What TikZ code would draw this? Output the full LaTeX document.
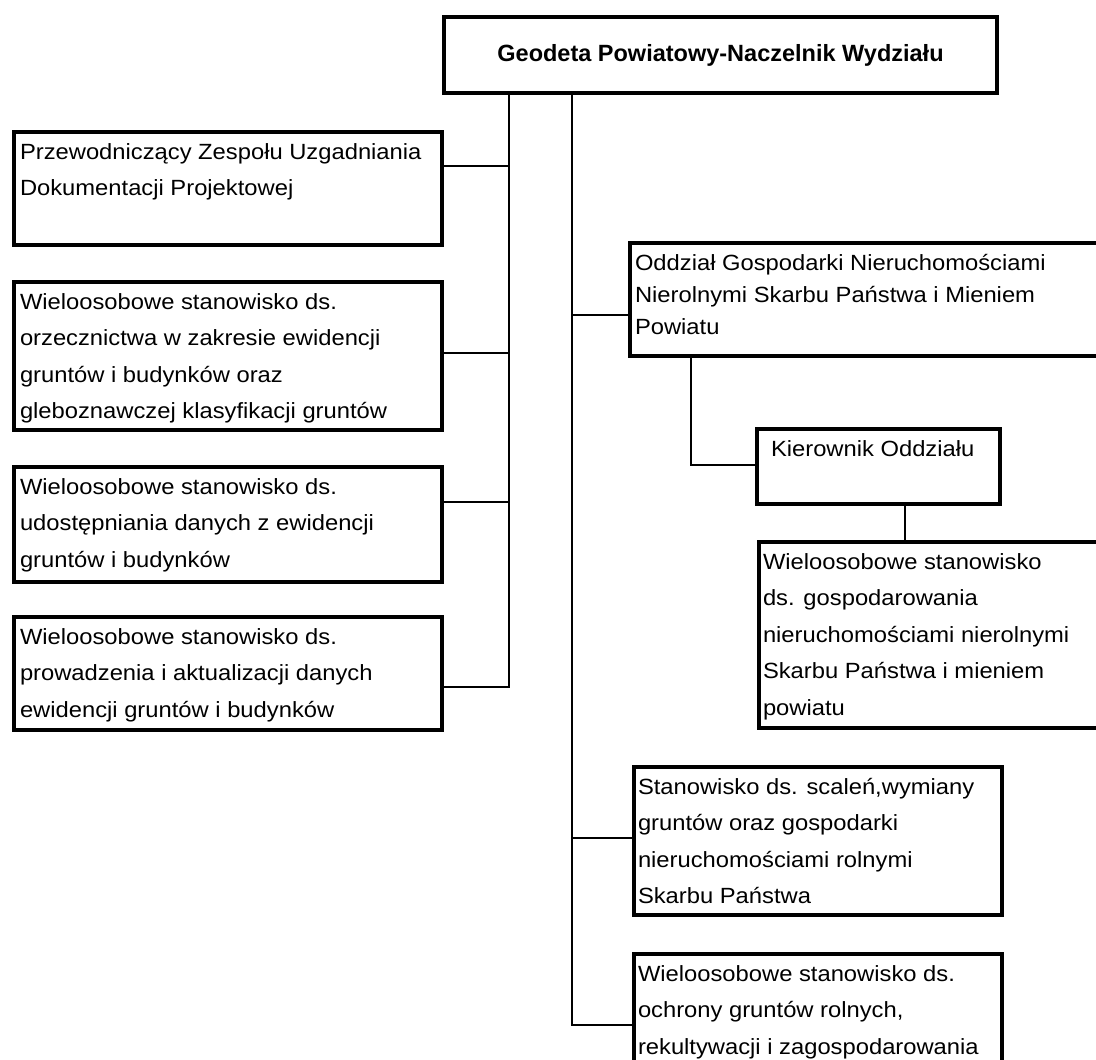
\documentclass[tikz,border=0pt]{standalone}
\usepackage{fontspec}
\setmainfont{Liberation Sans}[FakeStretch=1.08]
\newfontfamily\titlefont{Liberation Sans}
\newcommand\bxt[5]{\parbox[c][#2pt][t]{#1pt}{\fontsize{22}{#3}\selectfont\raggedright\leftskip=#4pt\relax\rule{0pt}{27pt}#5}}
\begin{document}
\begin{tikzpicture}[x=1pt,y=-1pt,
  box/.style={draw, line width=4pt, inner sep=0pt, anchor=north west, rectangle},
  conn/.style={line width=2pt}]
\useasboundingbox (0,0) rectangle (1096,1060);
\clip (0,0) rectangle (1096,1060);

% top
\node[box, minimum width=553pt, minimum height=76pt] (top) at (442,15)
  {\titlefont\bfseries\fontsize{23.5}{28}\selectfont Geodeta Powiatowy-Naczelnik Wydziału};

% left column
\node[box] (b1) at (12,130) {\bxt{428}{113}{36.5}{6}{Przewodniczący Zespołu Uzgadniania\\Dokumentacji Projektowej}};
\node[box] (b2) at (12,280) {\bxt{428}{148}{36.5}{6}{Wieloosobowe stanowisko ds.\\orzecznictwa w zakresie ewidencji\\gruntów i budynków oraz\\gleboznawczej klasyfikacji gruntów}};
\node[box] (b3) at (12,465) {\bxt{428}{115}{36.5}{6}{Wieloosobowe stanowisko ds.\\udostępniania danych z ewidencji\\gruntów i budynków}};
\node[box] (b4) at (12,615) {\bxt{428}{113}{36.5}{6}{Wieloosobowe stanowisko ds.\\prowadzenia i aktualizacji danych\\ewidencji gruntów i budynków}};

% right column
\node[box] (odd) at (628,241) {\bxt{480}{113}{32}{5}{Oddział Gospodarki Nieruchomościami\\Nierolnymi Skarbu Państwa i Mieniem\\Powiatu}};
\node[box] (kier) at (755,427) {\bxt{243}{75}{36.5}{14}{Kierownik Oddziału}};
\node[box] (rw) at (757,540) {\bxt{350}{186}{36.5}{4}{Wieloosobowe stanowisko\\ds. gospodarowania\\nieruchomościami nierolnymi\\Skarbu Państwa i mieniem\\powiatu}};
\node[box] (st) at (632,765) {\bxt{368}{148}{36.5}{4}{Stanowisko ds. scaleń,wymiany\\gruntów oraz gospodarki\\nieruchomościami rolnymi\\Skarbu Państwa}};
\node[box] (last) at (632,952) {\bxt{368}{150}{36.5}{4}{Wieloosobowe stanowisko ds.\\ochrony gruntów rolnych,\\rekultywacji i zagospodarowania}};

% junction coordinates
\coordinate (Lend) at (509,687);
\coordinate (Rend) at (572,1025);
\coordinate (j1) at (509,166);
\coordinate (j2) at (509,353);
\coordinate (j3) at (509,502);
\coordinate (k1) at (572,315);
\coordinate (k2) at (572,838);
\coordinate (m1) at (691,465);
\coordinate (m2) at (905,540);

% connectors
\draw[conn] (top.south -| Lend) -- (Lend) -- (b4.east |- Lend);
\draw[conn] (top.south -| Rend) -- (Rend) -- (last.west |- Rend);
\draw[conn] (b1.east |- j1) -- (j1);
\draw[conn] (b2.east |- j2) -- (j2);
\draw[conn] (b3.east |- j3) -- (j3);
\draw[conn] (k1) -- (odd.west |- k1);
\draw[conn] (k2) -- (st.west |- k2);
\draw[conn] (odd.south -| m1) -- (m1) -- (kier.west |- m1);
\draw[conn] (kier.south -| m2) -- (rw.north -| m2);
\end{tikzpicture}
\end{document}
